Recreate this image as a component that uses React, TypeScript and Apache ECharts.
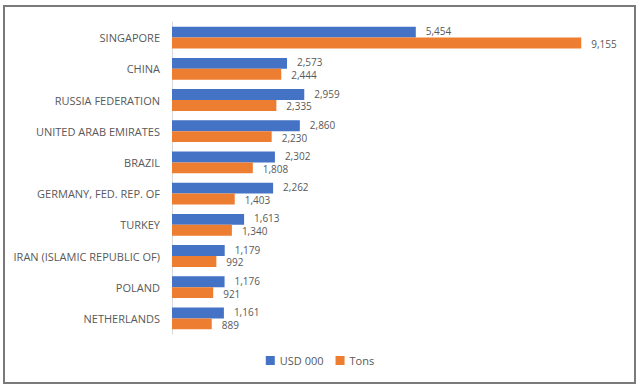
import React, { useEffect, useRef } from "react";
import * as echarts from "echarts";

const categories = [
  "SINGAPORE",
  "CHINA",
  "RUSSIA FEDERATION",
  "UNITED ARAB EMIRATES",
  "BRAZIL",
  "GERMANY, FED. REP. OF",
  "TURKEY",
  "IRAN (ISLAMIC REPUBLIC OF)",
  "POLAND",
  "NETHERLANDS",
];
const usd000 = [5454, 2573, 2959, 2860, 2302, 2262, 1613, 1179, 1176, 1161];
const tons = [9155, 2444, 2335, 2230, 1808, 1403, 1340, 992, 921, 889];

const fmt = (v: number) => v.toLocaleString("en-US");

export default function App() {
  const ref = useRef<HTMLDivElement>(null);
  useEffect(() => {
    if (!ref.current) return;
    const chart = echarts.init(ref.current, null, { renderer: "svg" });
    const font = "'Open Sans', sans-serif";
    const valueLabel = (dy: number) => ({
      show: true,
      position: "right",
      distance: 10,
      offset: [0, dy],
      color: "#595959",
      fontSize: 10,
      lineHeight: 10,
      fontFamily: font,
      formatter: (p: any) => fmt(p.value),
    });
    chart.setOption({
      animation: false,
      backgroundColor: "#ffffff",
      graphic: [
        {
          type: "rect",
          shape: { x: 4, y: 6, width: 631, height: 377 },
          style: { fill: "none", stroke: "#7a7a7a", lineWidth: 2 },
          silent: true,
        },
      ],
      grid: { left: 172, right: 21, top: 22, bottom: 55, containLabel: false },
      legend: {
        bottom: 18,
        left: "center",
        itemWidth: 9,
        itemHeight: 9,
        itemGap: 12,
        icon: "rect",
        textStyle: { color: "#595959", fontSize: 11, fontFamily: font },
        data: ["USD 000", "Tons"],
      },
      xAxis: {
        type: "value",
        min: 0,
        max: 10000,
        show: false,
      },
      yAxis: {
        type: "category",
        inverse: true,
        data: categories,
        axisLine: { show: true, lineStyle: { color: "#d9d9d9", width: 1 } },
        axisTick: { show: false },
        axisLabel: {
          color: "#595959",
          fontSize: 11,
          fontFamily: font,
          margin: 12,
        },
      },
      series: [
        {
          name: "USD 000",
          type: "bar",
          data: usd000,
          barGap: "0%",
          barCategoryGap: "30%",
          itemStyle: { color: "#4472C4" },
          label: valueLabel(-1),
        },
        {
          name: "Tons",
          type: "bar",
          data: tons,
          itemStyle: { color: "#ED7D31" },
          label: valueLabel(1),
        },
      ],
    });
    return () => chart.dispose();
  }, []);
  return (
    <div
      ref={ref}
      style={{ position: "fixed", left: 0, top: 0, width: 640, height: 389 }}
    />
  );
}
